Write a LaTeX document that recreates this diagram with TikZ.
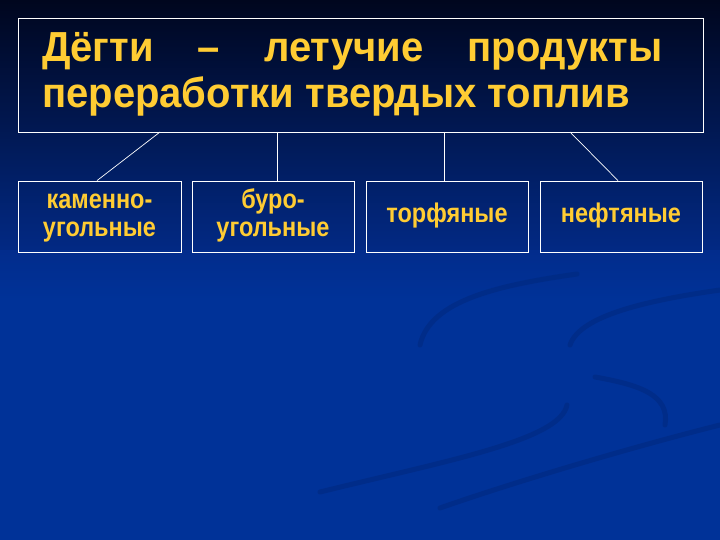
\documentclass[tikz,border=0pt]{standalone}
\usepackage{fontspec}
\setmainfont{Liberation Sans}
\definecolor{gold}{RGB}{255,204,51}
\definecolor{bgtop}{RGB}{0,6,30}
\definecolor{bgmid}{RGB}{2,44,140}
\definecolor{bgbot}{RGB}{0,50,152}
\definecolor{swoosh}{RGB}{0,40,125}
\newcommand{\boxtxt}[1]{\scalebox{1}[1.15]{\begin{tabular}{@{}c@{}}#1\end{tabular}}}
\begin{document}
\begin{tikzpicture}[x=1pt,y=-1pt,
  frame/.style={draw=white,line width=0.8pt,rectangle,inner sep=0pt},
  catbox/.style={frame,minimum width=162pt,minimum height=71pt,align=center,
     text=gold,font=\bfseries\fontsize{23.5}{24.5}\selectfont},
  titletext/.style={anchor=base west,inner sep=0pt,text=gold,
     font=\bfseries\fontsize{40}{48}\selectfont},
  link/.style={draw=white,line width=0.7pt}]
\useasboundingbox (0,0) rectangle (720,540);
\shade[top color=bgtop,bottom color=bgbot,middle color=bgmid] (0,0) rectangle (720,540);
\fill[bgbot] (0,300) rectangle (720,540);
\shade[top color=bgmid,bottom color=bgbot] (0,250) rectangle (720,300);
% faint decorative swooshes
\begin{scope}[draw=swoosh,line width=5pt,line cap=round,opacity=0.55]
\draw (577,274) .. controls (500,285) and (430,300) .. (420,345);
\draw (720,290) .. controls (650,300) and (580,315) .. (570,345);
\draw (595,377) .. controls (640,385) and (670,395) .. (665,425);
\draw (567,405) .. controls (560,440) and (450,460) .. (320,492);
\draw (720,425) .. controls (640,445) and (520,480) .. (440,508);
\end{scope}
% title
\node[frame,minimum width=685pt,minimum height=114pt] (title) at (360.5,75) {};
\node[titletext] (tl1) at (42,62)
  {\scalebox{1}[1.05]{\hbox to 620pt{Дёгти\hfill–\hfill летучие\hfill продукты}}};
\node[titletext] (tl2) at (42,108) {\scalebox{1}[1.05]{переработки твердых топлив}};
% categories
\node[catbox,minimum width=163pt] (b1) at (99.5,216.5) {\raisebox{2pt}{\boxtxt{каменно-\\угольные}}};
\node[catbox] (b2) at (273,216.5) {\raisebox{2pt}{\boxtxt{буро-\\угольные}}};
\node[catbox] (b3) at (447,216.5) {\raisebox{3pt}{\boxtxt{торфяные}}};
\node[catbox] (b4) at (621,216.5) {\raisebox{3pt}{\boxtxt{нефтяные}}};
% connectors
\coordinate (t1) at (160,132);
\coordinate (t2) at (277,132);
\coordinate (t3) at (444,132);
\coordinate (t4) at (570,132);
\draw[link] (t1) -- ([xshift=-2.5pt]b1.north);
\draw[link] (t2) -- (t2 |- b2.north);
\draw[link] (t3) -- (t3 |- b3.north);
\draw[link] (t4) -- ([xshift=-3pt]b4.north);
\end{tikzpicture}
\end{document}
